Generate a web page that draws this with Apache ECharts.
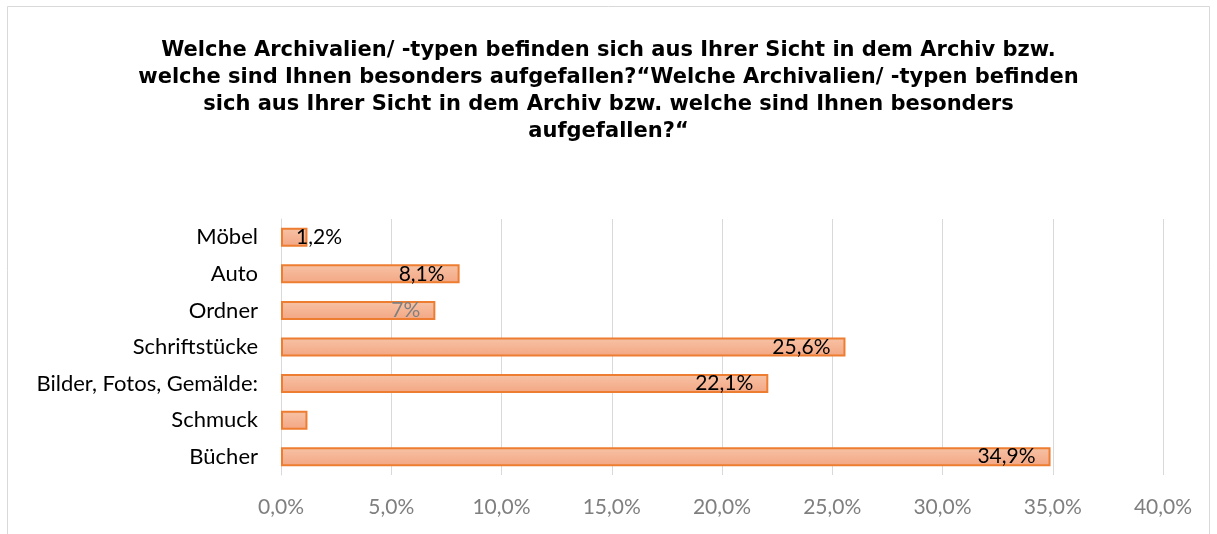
<!DOCTYPE html>
<html>
<head>
<meta charset="utf-8">
<script src="https://cdn.jsdelivr.net/npm/echarts@6/dist/echarts.min.js"></script>
<style>
  html, body { margin: 0; padding: 0; background: #fff; }
  #chart { width: 1217px; height: 534px; }
</style>
</head>
<body>
<div id="chart"></div>
<script>
var categories = ["Möbel", "Auto", "Ordner", "Schriftstücke", "Bilder, Fotos, Gemälde:", "Schmuck", "Bücher"];
var values = [1.2, 8.1, 7.0, 25.6, 22.1, 1.2, 34.9];
var valueLabels = ["1,2%", "8,1%", "7%", "25,6%", "22,1%", "", "34,9%"];
var labelColors = ["#000", "#000", "#7f7f7f", "#000", "#000", "#000", "#000"];

var titleText = "Welche Archivalien/ -typen befinden sich aus Ihrer Sicht in dem Archiv bzw.\n" +
  "welche sind Ihnen besonders aufgefallen?\u201cWelche Archivalien/ -typen befinden\n" +
  "sich aus Ihrer Sicht in dem Archiv bzw. welche sind Ihnen besonders\n" +
  "aufgefallen?\u201c";

var myChart = echarts.init(document.getElementById("chart"));

var barData = values.map(function (v, i) {
  var item = {
    value: v,
    label: {
      formatter: valueLabels[i],
      color: labelColors[i]
    }
  };
  // Möbel: bar too short, label starts inside and runs over the end
  if (i === 0) {
    item.label.position = "insideLeft";
    item.label.distance = 15;
  }
  return item;
});

myChart.setOption({
  animation: false,
  graphic: [
    {
      type: "rect",
      shape: { x: 7.5, y: 6.5, width: 1202, height: 600 },
      style: { fill: "none", stroke: "#d9d9d9", lineWidth: 1 },
      silent: true
    }
  ],
  title: {
    text: titleText,
    left: "center",
    top: 32,
    textStyle: {
      fontFamily: "DejaVu Sans",
      fontWeight: "bold",
      fontSize: 21,
      lineHeight: 27,
      color: "#000"
    }
  },
  grid: {
    left: 281,
    right: 54,
    top: 219,
    bottom: 59
  },
  xAxis: {
    type: "value",
    min: 0,
    max: 40,
    interval: 5,
    axisLine: { show: false },
    axisTick: { show: false },
    splitLine: { lineStyle: { color: "#d9d9d9", width: 1 } },
    axisLabel: {
      margin: 22,
      fontFamily: "Lato",
      fontSize: 21,
      color: "#7f7f7f",
      formatter: function (v) {
        return v.toFixed(1).replace(".", ",") + "%";
      }
    }
  },
  yAxis: {
    type: "category",
    data: categories,
    inverse: true,
    axisLine: { show: true, lineStyle: { color: "#d9d9d9", width: 1 } },
    axisTick: { show: false },
    axisLabel: {
      margin: 23,
      fontFamily: "Lato",
      fontSize: 22,
      color: "#000"
    }
  },
  series: [
    {
      type: "bar",
      data: barData,
      barWidth: 19,
      itemStyle: {
        color: new echarts.graphic.LinearGradient(0, 0, 0, 1, [
          { offset: 0, color: "#f7c3a6" },
          { offset: 1, color: "#f3a683" }
        ]),
        borderColor: "#ed7d31",
        borderWidth: 2
      },
      label: {
        show: true,
        position: "insideRight",
        distance: 15,
        fontFamily: "Lato",
        fontSize: 21
      }
    }
  ]
});

window.addEventListener("resize", function () {
  myChart.resize();
});
</script>
</body>
</html>
